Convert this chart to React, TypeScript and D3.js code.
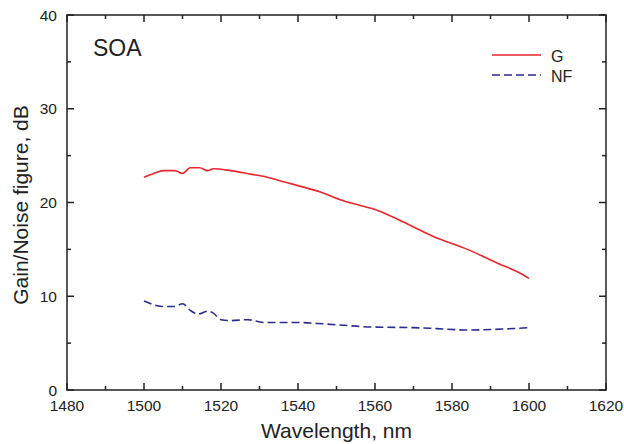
import React, { useEffect, useRef } from 'react';
import * as d3 from 'd3';

// wavelength (nm) / value (dB)
const gWave = [1500, 1502.5, 1505, 1508, 1510, 1512, 1514.5, 1516.5, 1518, 1522.5, 1528, 1531, 1535.5, 1540, 1546, 1551, 1556, 1561, 1567.5, 1575, 1584, 1592, 1598, 1600];
const gVal = [22.7, 23.1, 23.4, 23.4, 23.1, 23.7, 23.7, 23.4, 23.6, 23.4, 23.0, 22.8, 22.3, 21.8, 21.1, 20.3, 19.7, 19.1, 17.9, 16.4, 15.0, 13.5, 12.4, 11.9];

const nfWave = [1500, 1502.5, 1505, 1508, 1510, 1512, 1514, 1516.5, 1518, 1520, 1522.5, 1527, 1531, 1540, 1545, 1552, 1557, 1562, 1570, 1576, 1584, 1593, 1600];
const nfVal = [9.5, 9.1, 8.9, 8.9, 9.2, 8.5, 8.1, 8.4, 8.2, 7.5, 7.4, 7.5, 7.2, 7.2, 7.1, 6.9, 6.75, 6.7, 6.65, 6.55, 6.4, 6.5, 6.65];

const xTicks = [1480, 1500, 1520, 1540, 1560, 1580, 1600, 1620];
const yTicks = [0, 10, 20, 30, 40];
const xMinor = [1490, 1510, 1530, 1550, 1570, 1590, 1610];
const yMinor = [5, 15, 25, 35];

const legend = [
  { name: 'G', color: '#e8262e', dash: 'none' },
  { name: 'NF', color: '#2b2d8f', dash: '8,4' },
];

const W = 624, H = 444;
const L = 67, R = 606, T = 15, B = 390;
const FONT = '"Liberation Sans", Arial, Helvetica, sans-serif';

export default function App() {
  const svgRef = useRef<SVGSVGElement>(null);

  useEffect(() => {
    const svg = d3.select(svgRef.current);
    svg.selectAll('*').remove();

    const x = d3.scaleLinear().domain([1480, 1620]).range([L, R]);
    const y = d3.scaleLinear().domain([0, 40]).range([B, T]);

    const ax = svg.append('g').attr('stroke', '#222').attr('stroke-width', 1.5);
    ax.append('rect').attr('x', L).attr('y', T).attr('width', R - L).attr('height', B - T).attr('fill', 'none');

    // inward ticks on all four sides
    const tick = (x1: number, y1: number, x2: number, y2: number) =>
      ax.append('line').attr('x1', x1).attr('y1', y1).attr('x2', x2).attr('y2', y2);
    xTicks.forEach(v => { tick(x(v), B, x(v), B - 7); tick(x(v), T, x(v), T + 7); });
    xMinor.forEach(v => { tick(x(v), B, x(v), B - 4); tick(x(v), T, x(v), T + 4); });
    yTicks.forEach(v => { tick(L, y(v), L + 7, y(v)); tick(R, y(v), R - 7, y(v)); });
    yMinor.forEach(v => { tick(L, y(v), L + 4, y(v)); tick(R, y(v), R - 4, y(v)); });

    const txt = svg.append('g').attr('font-family', FONT).attr('fill', '#222');
    xTicks.forEach(v => txt.append('text').attr('x', x(v)).attr('y', 411)
      .attr('text-anchor', 'middle').attr('font-size', 15.5).text(v));
    yTicks.forEach(v => txt.append('text').attr('x', 57).attr('y', y(v) + 5.5)
      .attr('text-anchor', 'end').attr('font-size', 15.5).text(v));

    txt.append('text').attr('x', (L + R) / 2).attr('y', 438).attr('text-anchor', 'middle')
      .attr('font-size', 21).text('Wavelength, nm');
    txt.append('text').attr('transform', 'translate(28,205) rotate(-90)').attr('text-anchor', 'middle')
      .attr('font-size', 21).text('Gain/Noise figure, dB');
    txt.append('text').attr('x', 93).attr('y', 56).attr('font-size', 23).text('SOA');

    const line = d3.line<[number, number]>().x(d => x(d[0])).y(d => y(d[1])).curve(d3.curveMonotoneX);
    const series = [
      { pts: gWave.map((w, i) => [w, gVal[i]] as [number, number]), ...legend[0] },
      { pts: nfWave.map((w, i) => [w, nfVal[i]] as [number, number]), ...legend[1] },
    ];
    series.forEach(s => svg.append('path').attr('d', line(s.pts)).attr('fill', 'none')
      .attr('stroke', s.color).attr('stroke-width', 1.6).attr('stroke-dasharray', s.dash));

    // legend
    legend.forEach((s, i) => {
      const ly = 55 + i * 20;
      svg.append('line').attr('x1', 492).attr('x2', 541).attr('y1', ly).attr('y2', ly)
        .attr('stroke', s.color).attr('stroke-width', 1.6).attr('stroke-dasharray', s.dash);
      txt.append('text').attr('x', 551).attr('y', ly + 7).attr('font-size', 16).text(s.name);
    });
  }, []);

  return (
    <svg ref={svgRef} width={W} height={H} viewBox={`0 0 ${W} ${H}`}
      style={{ position: 'absolute', left: 0, top: 0, background: '#fff' }} />
  );
}
